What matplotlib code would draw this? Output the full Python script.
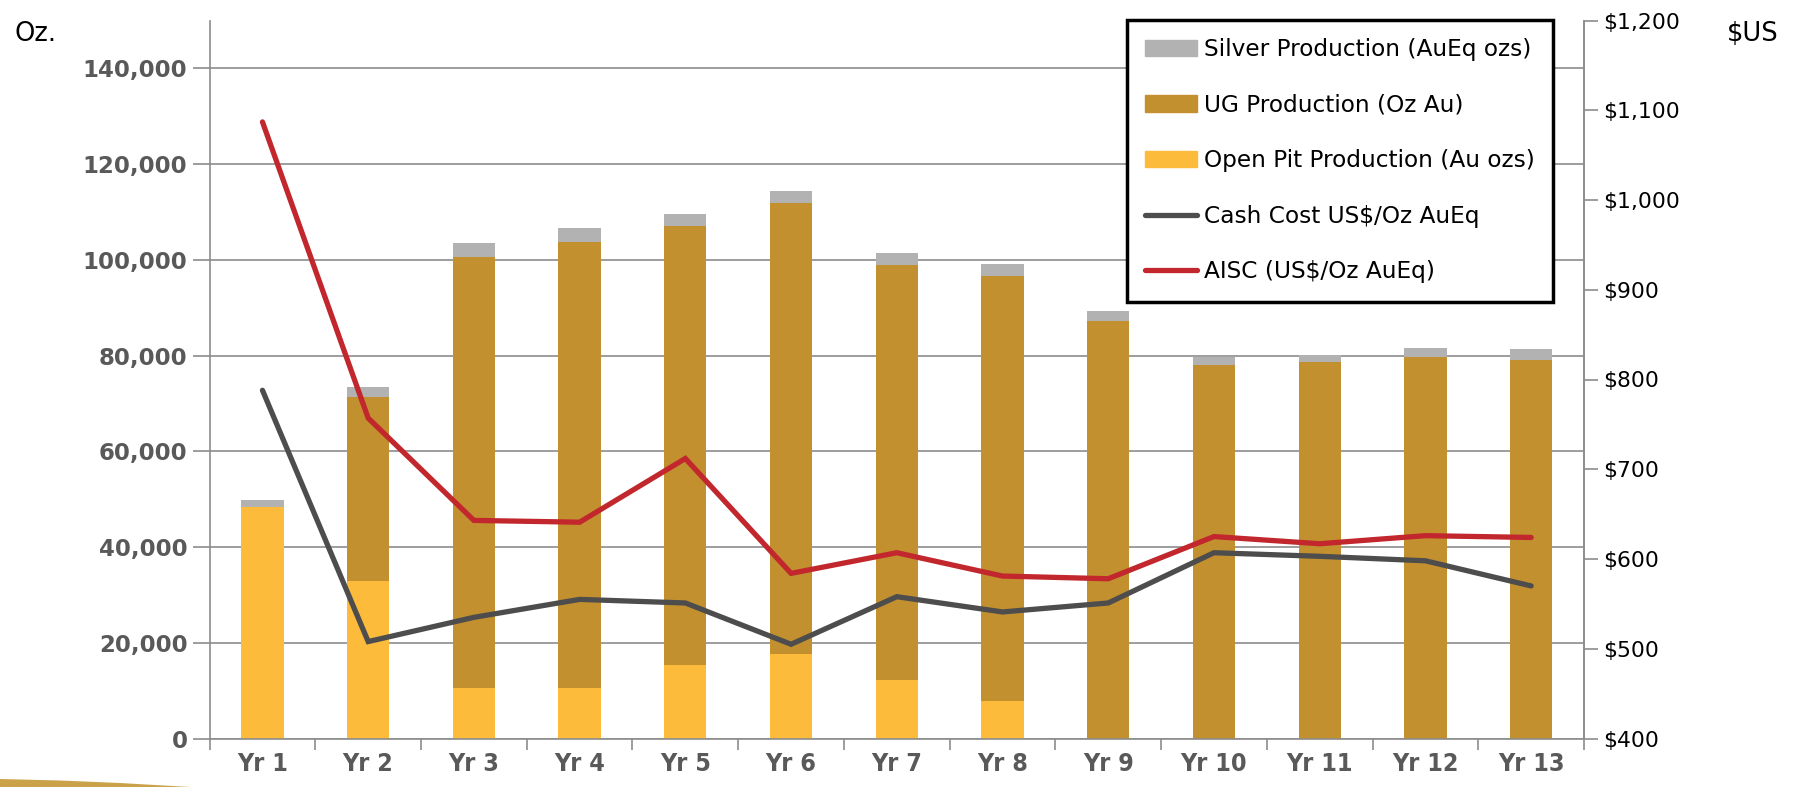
import numpy as np
import matplotlib.pyplot as plt
from matplotlib.patches import Patch, Polygon
from matplotlib.lines import Line2D
from matplotlib.ticker import FuncFormatter

years = ["Yr 1", "Yr 2", "Yr 3", "Yr 4", "Yr 5", "Yr 6", "Yr 7",
         "Yr 8", "Yr 9", "Yr 10", "Yr 11", "Yr 12", "Yr 13"]
open_pit = [48400, 32800, 10600, 10600, 15400, 17600, 12200, 7800, 0, 0, 0, 0, 0]
ug = [0, 38600, 90000, 93100, 91600, 94200, 86700, 88900, 87200, 78000, 78600, 79600, 79100]
silver = [1500, 2000, 2900, 2900, 2500, 2600, 2600, 2400, 2100, 1700, 1600, 1900, 2300]
cash_cost = [788, 508, 535, 555, 551, 505, 558, 541, 551, 607, 603, 598, 570]
aisc = [1087, 757, 643, 641, 712, 584, 607, 581, 578, 625, 617, 626, 624]

C_SILVER = "#B2B2B2"
C_UG = "#C3902F"
C_OP = "#FDBB3B"
C_CASH = "#4D4D4D"
C_AISC = "#C1272D"
C_GRID = "#8C8C8C"

W, H = 1796, 787
fig = plt.figure(figsize=(W / 100, H / 100), dpi=100)
ax = fig.add_axes([209.6 / W, 1 - 738.5 / H, (1584 - 209.6) / W, (738.5 - 20.5) / H])

x = np.arange(len(years))
bw = 0.4
ax.bar(x, open_pit, bw, color=C_OP, zorder=2)
ax.bar(x, ug, bw, bottom=open_pit, color=C_UG, zorder=2)
ax.bar(x, silver, bw, bottom=np.add(open_pit, ug), color=C_SILVER, zorder=2)

ax.set_xlim(-0.5, len(years) - 0.5)
ax.set_ylim(0, 150000)
ax.set_yticks(range(0, 140001, 20000))
ax.yaxis.set_major_formatter(FuncFormatter(lambda v, p: f"{v:,.0f}"))
ax.yaxis.grid(True, color=C_GRID, lw=1.2)
ax.set_axisbelow(True)

ax.set_xticks(x)
ax.set_xticklabels(years)
ax.set_xticks(np.arange(-0.5, len(years)), minor=True)
ax.tick_params(axis="x", which="major", length=0, pad=10)
ax.tick_params(axis="x", which="minor", length=8, width=1.2, color=C_GRID)
ax.tick_params(axis="y", length=12, width=1.2, color=C_GRID, pad=4,
               labelsize=16.5, labelcolor="#595959")
for lab in ax.get_yticklabels():
    lab.set_fontweight("bold")
for lab in ax.get_xticklabels():
    lab.set_fontstretch("condensed")
    lab.set_fontweight("bold")
    lab.set_fontsize(18)
    lab.set_color("#595959")

for s in ["left", "bottom", "right"]:
    ax.spines[s].set_color(C_GRID)
    ax.spines[s].set_linewidth(1.2)
ax.spines["top"].set_visible(False)

# costs on the secondary axis
ax2 = ax.twinx()
ax2.plot(x, cash_cost, color=C_CASH, lw=3.8, solid_capstyle="round", solid_joinstyle="miter", zorder=3)
ax2.plot(x, aisc, color=C_AISC, lw=3.8, solid_capstyle="round", solid_joinstyle="miter", zorder=3)
ax2.set_ylim(400, 1200)
ax2.set_yticks(range(400, 1201, 100))
ax2.yaxis.set_major_formatter(FuncFormatter(lambda v, p: f"${v:,.0f}"))
ax2.tick_params(axis="y", length=10, width=1.2, color=C_GRID, pad=4,
                labelsize=15.75, labelcolor="black")
for s in ["left", "bottom", "top"]:
    ax2.spines[s].set_visible(False)
ax2.spines["right"].set_color(C_GRID)
ax2.spines["right"].set_linewidth(1.2)

handles = [
    Patch(color=C_SILVER, label="Silver Production (AuEq ozs)"),
    Patch(color=C_UG, label="UG Production (Oz Au)"),
    Patch(color=C_OP, label="Open Pit Production (Au ozs)"),
    Line2D([], [], color=C_CASH, lw=3.8, solid_capstyle="round", label="Cash Cost US$/Oz AuEq"),
    Line2D([], [], color=C_AISC, lw=3.8, solid_capstyle="round", label="AISC (US$/Oz AuEq)"),
]
leg = ax2.legend(handles=handles, loc="upper right",
                 bbox_to_anchor=(1553 / W, 1 - 19.5 / H), bbox_transform=fig.transFigure,
                 borderaxespad=0, fontsize=16.75, frameon=True, fancybox=False,
                 framealpha=1, handlelength=2.2, handletextpad=0.3, labelspacing=1.4,
                 borderpad=0.8)
leg.get_frame().set_edgecolor("black")
leg.get_frame().set_linewidth(2.5)
leg.set_zorder(10)

fig.text(14 / W, 1 - 34 / H, "Oz.", fontsize=18.5, va="center", ha="left")
fig.text(1727 / W, 1 - 34 / H, "$US", fontsize=18.5, va="center", ha="left")

# gold swoosh in the bottom-left corner
pts = [(0, 779), (60, 780.5), (120, 783), (190, 787), (0, 787)]
fig.add_artist(Polygon([(px / W, 1 - py / H) for px, py in pts], closed=True,
                       transform=fig.transFigure, color="#C9A24A", lw=0))

fig.savefig("out.png", dpi=100)
